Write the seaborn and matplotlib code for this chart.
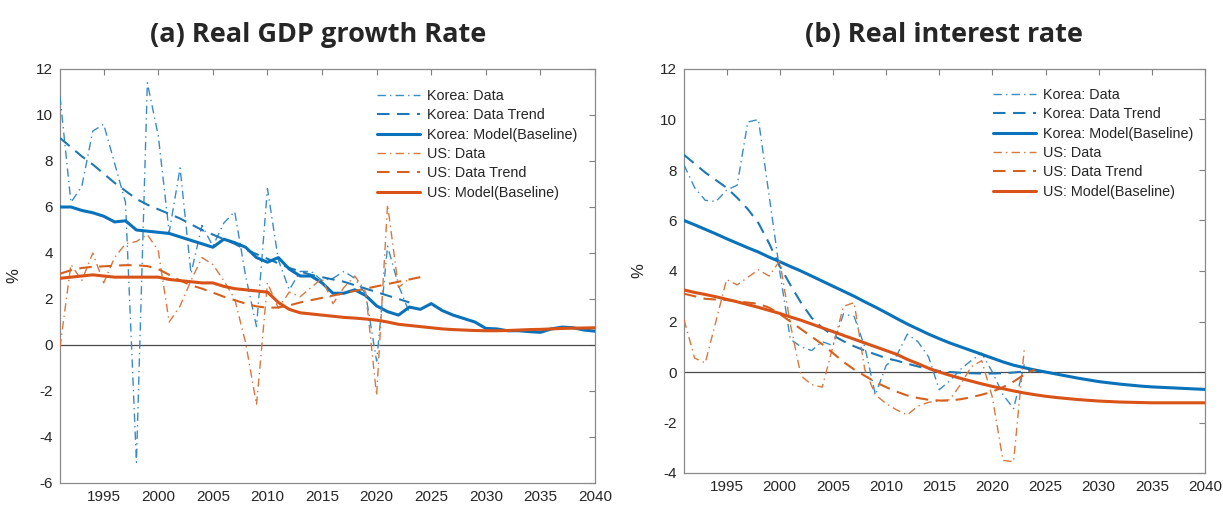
import numpy as np
import pandas as pd
import matplotlib
matplotlib.use("Agg")
import matplotlib.pyplot as plt
import seaborn as sns

# ---------------- data ----------------
years_data = list(range(1991, 2024))          # observed data, 1991-2023
years_trend_kor_gdp = list(range(1991, 2024))
years_trend_us_gdp = list(range(1991, 2025))
years_trend_rate = list(range(1991, 2025))
years_model = list(range(1991, 2041))         # model baseline, 1991-2040

# (a) Real GDP growth rate, %
kor_gdp_data = [10.8, 6.2, 6.9, 9.3, 9.6, 7.9, 6.2, -5.1, 11.4, 9.1,
                4.9, 7.7, 3.1, 5.2, 4.3, 5.3, 5.8, 3.0, 0.8, 6.8,
                3.7, 2.4, 3.2, 3.2, 2.8, 2.9, 3.2, 2.9, 2.2, -0.7,
                4.3, 2.6, 1.4]
kor_gdp_trend = [9.0, 8.6, 8.2, 7.85, 7.45, 7.05, 6.7, 6.35, 6.1, 5.9,
                 5.7, 5.5, 5.25, 5.0, 4.8, 4.6, 4.4, 4.15, 3.95, 3.75,
                 3.55, 3.35, 3.2, 3.05, 2.95, 2.85, 2.75, 2.6, 2.45, 2.3,
                 2.15, 2.0, 1.85]
kor_gdp_model = [6.0, 6.0, 5.85, 5.75, 5.6, 5.35, 5.4, 5.0, 4.95, 4.9,
                 4.85, 4.7, 4.55, 4.4, 4.25, 4.6, 4.45, 4.25, 3.8, 3.6,
                 3.8, 3.3, 3.0, 3.0, 2.7, 2.25, 2.25, 2.4, 2.15, 1.7,
                 1.45, 1.3, 1.65, 1.55, 1.8, 1.5, 1.3, 1.15, 1.0, 0.72,
                 0.7, 0.62, 0.62, 0.58, 0.55, 0.7, 0.78, 0.75, 0.65, 0.6]
us_gdp_data = [-0.1, 3.5, 2.8, 4.0, 2.7, 3.8, 4.4, 4.5, 4.8, 4.1,
               1.0, 1.7, 2.8, 3.8, 3.5, 2.8, 2.0, 0.1, -2.6, 2.7,
               1.6, 2.3, 2.1, 2.5, 2.9, 1.8, 2.5, 3.0, 2.3, -2.2,
               6.1, 2.5, 2.9]
us_gdp_trend = [3.1, 3.25, 3.35, 3.4, 3.42, 3.45, 3.47, 3.47, 3.43, 3.3,
                3.05, 2.8, 2.6, 2.45, 2.28, 2.1, 1.95, 1.8, 1.68, 1.62,
                1.63, 1.72, 1.85, 1.95, 2.05, 2.15, 2.25, 2.35, 2.45, 2.55,
                2.65, 2.75, 2.85, 2.95]
us_gdp_model = [2.9, 2.95, 3.0, 3.05, 3.0, 2.95, 2.95, 2.95, 2.95, 2.95,
                2.85, 2.8, 2.75, 2.7, 2.7, 2.55, 2.45, 2.4, 2.35, 2.3,
                1.85, 1.55, 1.4, 1.35, 1.3, 1.25, 1.2, 1.17, 1.13, 1.08,
                1.0, 0.9, 0.85, 0.8, 0.75, 0.7, 0.67, 0.65, 0.63, 0.62,
                0.62, 0.63, 0.65, 0.67, 0.68, 0.7, 0.72, 0.73, 0.74, 0.75]

# (b) Real interest rate, %
kor_rate_data = [8.2, 7.3, 6.8, 6.75, 7.2, 7.4, 9.9, 10.0, 7.0, 4.0,
                 1.3, 1.0, 0.85, 1.2, 1.05, 2.3, 2.2, 1.0, -0.9, 0.25,
                 0.65, 1.5, 1.2, 0.6, -0.7, -0.35, 0.1, 0.45, 0.75, 0.0,
                 -0.9, -1.45, 0.3]
kor_rate_trend = [8.6, 8.25, 7.9, 7.6, 7.3, 6.9, 6.45, 5.9, 5.1, 4.2,
                  3.45, 2.75, 2.15, 1.75, 1.45, 1.22, 1.02, 0.85, 0.7, 0.55,
                  0.45, 0.33, 0.22, 0.12, 0.04, 0.0, -0.03, -0.05, -0.06, -0.06,
                  -0.05, -0.02, 0.02, 0.07]
kor_rate_model = [6.0, 5.83, 5.65, 5.47, 5.28, 5.1, 4.92, 4.75, 4.55, 4.37,
                  4.18, 4.0, 3.8, 3.6, 3.4, 3.2, 3.0, 2.78, 2.57, 2.35,
                  2.12, 1.9, 1.7, 1.5, 1.32, 1.15, 1.0, 0.85, 0.7, 0.55,
                  0.4, 0.27, 0.17, 0.08, 0.0, -0.08, -0.16, -0.24, -0.31, -0.38,
                  -0.43, -0.48, -0.52, -0.56, -0.59, -0.61, -0.63, -0.65, -0.67, -0.69]
us_rate_data = [2.07, 0.55, 0.36, 2.0, 3.66, 3.45, 3.75, 4.05, 3.8, 4.4,
                1.9, -0.15, -0.5, -0.6, 1.0, 2.6, 2.75, 0.1, -0.9, -1.25,
                -1.5, -1.7, -1.35, -1.2, -1.15, -1.1, -0.5, 0.2, 0.45, -1.0,
                -3.5, -3.55, 0.9]
us_rate_trend = [3.1, 3.0, 2.9, 2.87, 2.85, 2.8, 2.75, 2.7, 2.55, 2.3,
                 2.0, 1.7, 1.4, 1.1, 0.75, 0.4, 0.1, -0.15, -0.4, -0.6,
                 -0.78, -0.93, -1.03, -1.1, -1.13, -1.13, -1.08, -1.0, -0.9, -0.78,
                 -0.6, -0.38, -0.1, 0.1]
us_rate_model = [3.25, 3.15, 3.07, 2.98, 2.88, 2.78, 2.67, 2.56, 2.44, 2.32,
                 2.18, 2.05, 1.9, 1.75, 1.6, 1.45, 1.3, 1.15, 1.0, 0.85,
                 0.7, 0.5, 0.33, 0.15, 0.0, -0.13, -0.25, -0.36, -0.47, -0.57,
                 -0.66, -0.75, -0.83, -0.9, -0.96, -1.01, -1.05, -1.09, -1.12, -1.15,
                 -1.17, -1.19, -1.2, -1.21, -1.22, -1.22, -1.22, -1.22, -1.22, -1.22]

labels = ["Korea: Data", "Korea: Data Trend", "Korea: Model(Baseline)",
          "US: Data", "US: Data Trend", "US: Model(Baseline)"]
titles = ["(a) Real GDP growth Rate", "(b) Real interest rate"]
x_ticks = list(range(1995, 2041, 5))
y_ticks_gdp = list(range(-6, 13, 2))
y_ticks_rate = list(range(-4, 13, 2))

# ---------------- style ----------------
sns.set_style("white")
plt.rcParams["font.family"] = ["Liberation Sans", "DejaVu Sans"]
plt.rcParams["axes.unicode_minus"] = False

BLUE_DATA, BLUE_TREND, BLUE_MODEL = "#3a8cc4", "#1f78b6", "#0a72ba"
ORANGE_DATA, ORANGE_TREND, ORANGE_MODEL = "#d7783f", "#d6611f", "#d95319"
DASHDOT = (0, (6, 3, 1, 3))
DASHED = (0, (6, 3.6))

line_styles = [
    (BLUE_DATA, 1.0, DASHDOT),
    (BLUE_TREND, 1.5, DASHED),
    (BLUE_MODEL, 2.2, "-"),
    (ORANGE_DATA, 1.0, DASHDOT),
    (ORANGE_TREND, 1.5, DASHED),
    (ORANGE_MODEL, 2.2, "-"),
]

W, H = 1223, 505
fig = plt.figure(figsize=(W / 100, H / 100), dpi=100)
ax_gdp = fig.add_axes([60 / W, (H - 483) / H, 535 / W, 414 / H])
ax_rate = fig.add_axes([684 / W, (H - 473) / H, 521 / W, 404 / H])

panels = [
    (ax_gdp,
     [(years_data, kor_gdp_data), (years_trend_kor_gdp, kor_gdp_trend),
      (years_model, kor_gdp_model), (years_data, us_gdp_data),
      (years_trend_us_gdp, us_gdp_trend), (years_model, us_gdp_model)],
     (-6, 12), y_ticks_gdp, 0.952),
    (ax_rate,
     [(years_data, kor_rate_data), (years_trend_rate, kor_rate_trend),
      (years_model, kor_rate_model), (years_data, us_rate_data),
      (years_trend_rate, us_rate_trend), (years_model, us_rate_model)],
     (-4, 12), y_ticks_rate, 0.953),
]

for ax, series, ylim, yticks, leg_top in panels:
    ax.axhline(0, color="#4a4a4a", lw=0.9, zorder=1)
    handles = []
    for (xs, ys), (col, lw, ls), lab in zip(series, line_styles, labels):
        df = pd.DataFrame({"year": xs, "value": ys})
        sns.lineplot(data=df, x="year", y="value", ax=ax, color=col,
                     linewidth=lw, linestyle=ls, zorder=3)
        line = ax.lines[-1]
        line.set_label(lab)
        handles.append(line)
    ax.set_xlim(1991, 2040)
    ax.set_ylim(*ylim)
    ax.set_xticks(x_ticks)
    ax.set_yticks(yticks)
    ax.set_xlabel("")
    ax.set_ylabel("%", fontsize=12, color="#262626")
    ax.yaxis.set_label_coords(-0.072, 0.5)
    ax.tick_params(axis="both", direction="in", length=4, width=0.8,
                   color="#7f7f7f", labelcolor="#262626", labelsize=11,
                   top=True, right=True, pad=5)
    for s in ax.spines.values():
        s.set_visible(True)
        s.set_color("#8a8a8a")
        s.set_linewidth(0.9)
    ax.legend(handles=handles, labels=labels, loc="upper left",
              bbox_to_anchor=(0.5925, leg_top), frameon=False, fontsize=10.4,
              handlelength=3.0, handletextpad=0.45, labelspacing=0.37,
              borderpad=0, borderaxespad=0)

for cx, txt in zip([318, 944], titles):
    fig.text(cx / W, 1 - 35 / H, txt, ha="center", va="center",
             fontsize=19.5, fontweight="bold",
             family=["Open Sans", "DejaVu Sans"])

fig.savefig("out.png", dpi=100)
